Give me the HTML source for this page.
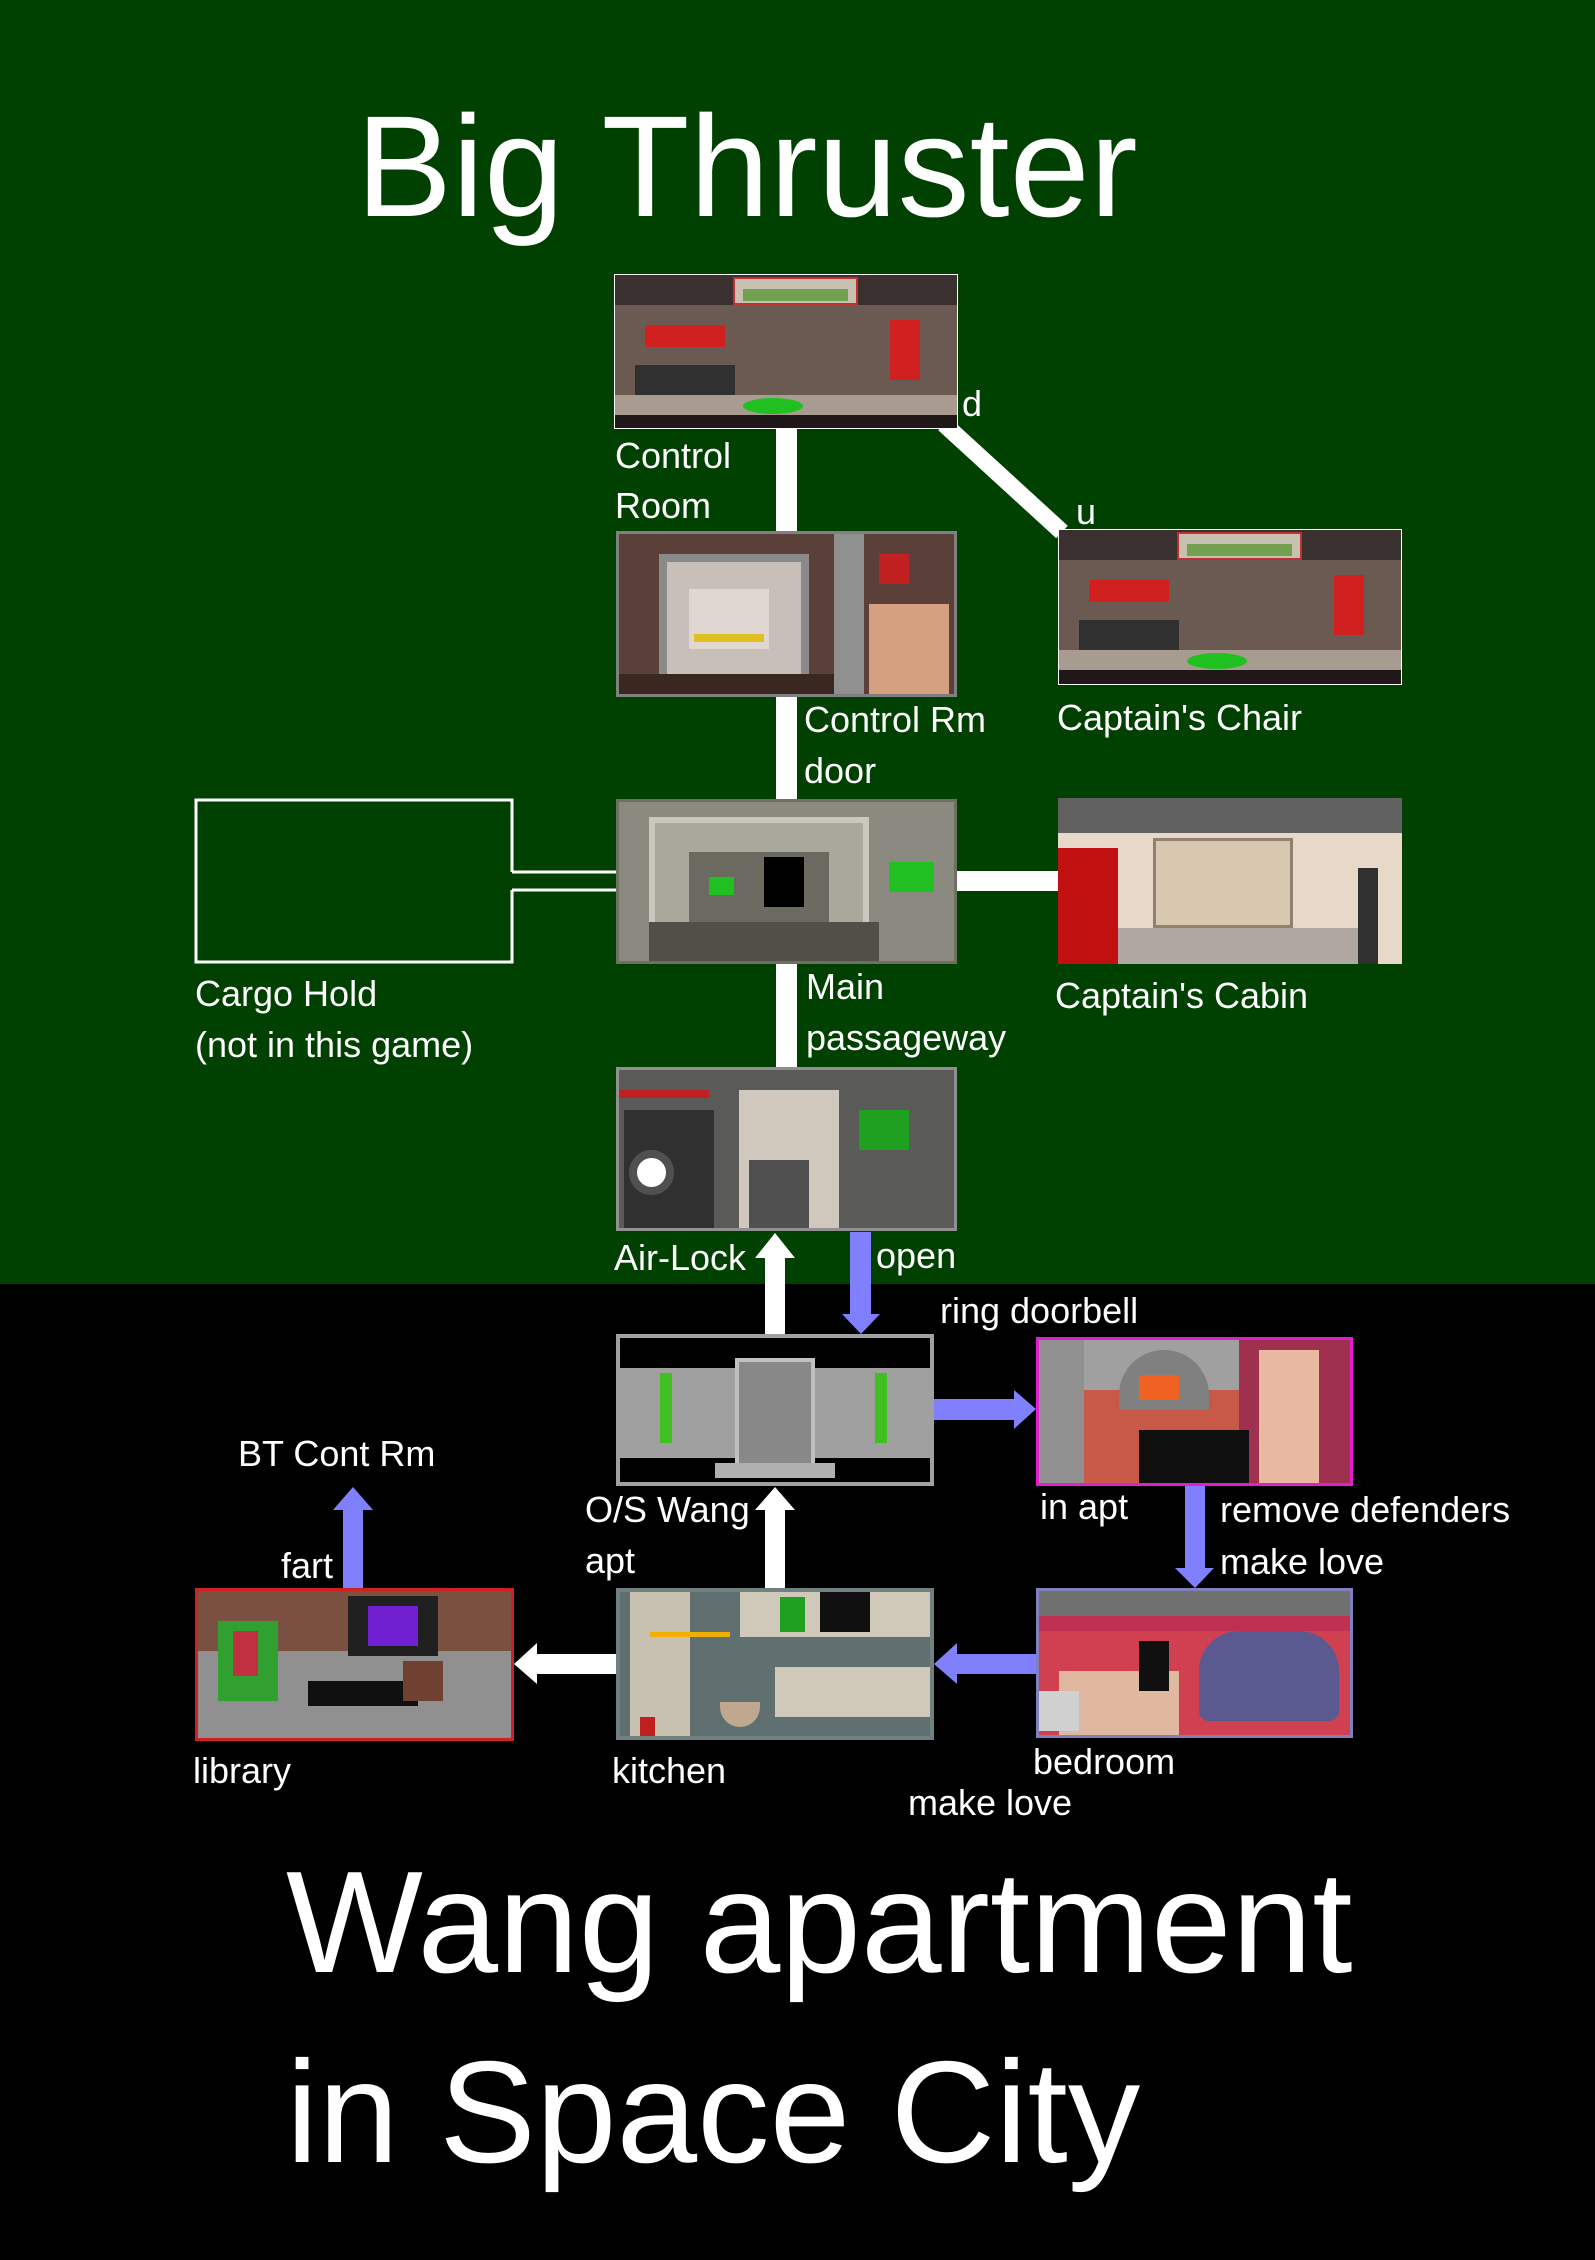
<!DOCTYPE html>
<html><head><meta charset="utf-8"><style>
*{margin:0;padding:0;box-sizing:border-box}
body{width:1595px;height:2260px;position:relative;background:#000;overflow:hidden;font-family:"Liberation Sans",sans-serif;color:#fff}
.a{position:absolute}
.t{position:absolute;font-size:36px;line-height:36px;white-space:nowrap}
.big{position:absolute;font-size:146px;line-height:1;white-space:nowrap}
.img{position:absolute;overflow:hidden}
.img div{position:absolute}
</style></head><body>
<div class="a" style="left:0;top:0;width:1595px;height:1284px;background:#004000"></div>

<div class="big" style="left:356px;top:95px;font-size:144px">Big Thruster</div>

<!-- connectors top -->
<div class="a" style="left:776px;top:428px;width:21px;height:104px;background:#fff"></div>
<div class="a" style="left:776px;top:697px;width:21px;height:104px;background:#fff"></div>
<div class="a" style="left:776px;top:964px;width:21px;height:104px;background:#fff"></div>
<div class="a" style="left:957px;top:871px;width:102px;height:20px;background:#fff"></div>
<svg class="a" style="left:0;top:0" width="1595" height="1300"><line x1="944" y1="424" x2="1062" y2="532" stroke="#fff" stroke-width="17"/>
<polyline points="512,872 512,800 196,800 196,962 512,962 512,890" fill="none" stroke="#fff" stroke-width="3"/>
<line x1="512" y1="872" x2="616" y2="872" stroke="#fff" stroke-width="3"/>
<line x1="512" y1="890" x2="616" y2="890" stroke="#fff" stroke-width="3"/></svg>

<!-- Control Room -->
<div class="img" style="left:614px;top:274px;width:344px;height:155px;background:#6a5a52;border:1px solid #fff">
<div style="left:0;top:0;width:344px;height:30px;background:#3a3030"></div>
<div style="left:118px;top:2px;width:125px;height:28px;background:#c8c0b0;border:2px solid #c03030"></div>
<div style="left:128px;top:14px;width:105px;height:12px;background:#70a050"></div>
<div style="left:30px;top:50px;width:80px;height:22px;background:#d02020"></div>
<div style="left:275px;top:45px;width:30px;height:60px;background:#d02020"></div>
<div style="left:20px;top:90px;width:100px;height:30px;background:#303030"></div>
<div style="left:0;top:120px;width:344px;height:25px;background:#a89c90"></div>
<div style="left:128px;top:123px;width:60px;height:16px;background:#20c020;border-radius:50%"></div>
<div style="left:0;top:140px;width:344px;height:15px;background:#201818"></div>
</div>

<!-- Control Rm door -->
<div class="img" style="left:616px;top:531px;width:341px;height:166px;background:#5a4038;border:3px solid #808080">
<div style="left:40px;top:20px;width:150px;height:130px;background:#c8c0b8;border:8px solid #8a8a8a"></div>
<div style="left:70px;top:55px;width:80px;height:60px;background:#e0d8d0"></div>
<div style="left:75px;top:100px;width:70px;height:8px;background:#e0c020"></div>
<div style="left:0;top:140px;width:215px;height:25px;background:#3a2820"></div>
<div style="left:215px;top:0;width:30px;height:166px;background:#909090"></div>
<div style="left:250px;top:70px;width:80px;height:96px;background:#d4a080"></div>
<div style="left:260px;top:20px;width:30px;height:30px;background:#c02020"></div>
</div>

<!-- Captain's Chair -->
<div class="img" style="left:1058px;top:529px;width:344px;height:156px;background:#6a5a52;border:1px solid #fff">
<div style="left:0;top:0;width:344px;height:30px;background:#3a3030"></div>
<div style="left:118px;top:2px;width:125px;height:28px;background:#c8c0b0;border:2px solid #c03030"></div>
<div style="left:128px;top:14px;width:105px;height:12px;background:#70a050"></div>
<div style="left:30px;top:50px;width:80px;height:22px;background:#d02020"></div>
<div style="left:275px;top:45px;width:30px;height:60px;background:#d02020"></div>
<div style="left:20px;top:90px;width:100px;height:30px;background:#303030"></div>
<div style="left:0;top:120px;width:344px;height:25px;background:#a89c90"></div>
<div style="left:128px;top:123px;width:60px;height:16px;background:#20c020;border-radius:50%"></div>
<div style="left:0;top:140px;width:344px;height:16px;background:#201818"></div>
</div>

<!-- Main passageway -->
<div class="img" style="left:616px;top:799px;width:341px;height:165px;background:#8a8a80;border:3px solid #707060">
<div style="left:30px;top:15px;width:220px;height:130px;background:#a8a89c;border:6px solid #c8c8bc"></div>
<div style="left:70px;top:50px;width:140px;height:75px;background:#6a6a60"></div>
<div style="left:145px;top:55px;width:40px;height:50px;background:#000"></div>
<div style="left:90px;top:75px;width:25px;height:18px;background:#20c020"></div>
<div style="left:270px;top:60px;width:45px;height:30px;background:#20c020"></div>
<div style="left:30px;top:120px;width:230px;height:40px;background:#505048"></div>
</div>

<!-- Captain's Cabin -->
<div class="img" style="left:1058px;top:798px;width:344px;height:166px;background:#e8d8c8">
<div style="left:0;top:0;width:344px;height:35px;background:#606060"></div>
<div style="left:95px;top:40px;width:140px;height:90px;background:#d8c8b0;border:3px solid #908070"></div>
<div style="left:0;top:50px;width:60px;height:116px;background:#c01010"></div>
<div style="left:60px;top:130px;width:240px;height:36px;background:#b0a8a0"></div>
<div style="left:300px;top:70px;width:20px;height:96px;background:#303030"></div>
</div>

<!-- Air-Lock -->
<div class="img" style="left:616px;top:1067px;width:341px;height:164px;background:#5a5a58;border:3px solid #909090">
<div style="left:120px;top:20px;width:100px;height:140px;background:#d0c8bc"></div>
<div style="left:130px;top:90px;width:60px;height:70px;background:#505050"></div>
<div style="left:5px;top:40px;width:90px;height:120px;background:#303030"></div>
<div style="left:10px;top:80px;width:45px;height:45px;background:#fff;border-radius:50%;border:8px solid #505050"></div>
<div style="left:240px;top:40px;width:50px;height:40px;background:#20a020"></div>
<div style="left:0;top:20px;width:90px;height:8px;background:#c02020"></div>
</div>

<!-- arrows -->
<svg class="a" style="left:0;top:0" width="1595" height="2260">
<g fill="#fff">
<rect x="765" y="1255" width="20" height="80"/><polygon points="755,1258 775,1233 795,1258"/>
<rect x="765" y="1505" width="20" height="84"/><polygon points="755,1510 775,1487 795,1510"/>
<rect x="534" y="1654" width="83" height="20"/><polygon points="537,1643 514,1664 537,1684"/>
</g>
<g fill="#8080ff">
<rect x="850" y="1232" width="21" height="85"/><polygon points="842,1314 861,1334 880,1314"/>
<rect x="934" y="1399" width="82" height="21"/><polygon points="1014,1390 1036,1409 1014,1429"/>
<rect x="1185" y="1486" width="20" height="85"/><polygon points="1175,1568 1195,1588 1214,1568"/>
<rect x="955" y="1654" width="82" height="20"/><polygon points="957,1643 934,1664 957,1684"/>
<rect x="343" y="1505" width="20" height="84"/><polygon points="333,1510 353,1487 373,1510"/>
</g>
</svg>

<!-- O/S Wang -->
<div class="img" style="left:616px;top:1334px;width:318px;height:152px;background:#000;border:4px solid #a0a0a0">
<div style="left:0;top:30px;width:310px;height:90px;background:#a0a0a0"></div>
<div style="left:115px;top:20px;width:80px;height:110px;background:#888;border:4px solid #c0c0c0"></div>
<div style="left:40px;top:35px;width:12px;height:70px;background:#40c020"></div>
<div style="left:255px;top:35px;width:12px;height:70px;background:#40c020"></div>
<div style="left:95px;top:125px;width:120px;height:15px;background:#b0b0b0"></div>
</div>

<!-- in apt -->
<div class="img" style="left:1036px;top:1337px;width:317px;height:149px;background:#c85848;border:3px solid #e020d0">
<div style="left:0;top:0;width:317px;height:50px;background:#a0a0a0"></div>
<div style="left:80px;top:10px;width:90px;height:60px;background:#808080;border-radius:45px 45px 0 0"></div>
<div style="left:100px;top:35px;width:40px;height:25px;background:#f06020"></div>
<div style="left:0;top:0;width:45px;height:149px;background:#909090"></div>
<div style="left:200px;top:0;width:117px;height:149px;background:#a03050"></div>
<div style="left:220px;top:10px;width:60px;height:139px;background:#e8b8a0"></div>
<div style="left:100px;top:90px;width:110px;height:59px;background:#101010"></div>
</div>

<!-- library -->
<div class="img" style="left:195px;top:1588px;width:319px;height:153px;background:#909090;border:3px solid #d02020">
<div style="left:0;top:0;width:319px;height:60px;background:#7a5040"></div>
<div style="left:150px;top:5px;width:90px;height:60px;background:#202020"></div>
<div style="left:170px;top:15px;width:50px;height:40px;background:#7020d0"></div>
<div style="left:20px;top:30px;width:60px;height:80px;background:#30a030"></div>
<div style="left:35px;top:40px;width:25px;height:45px;background:#c03040"></div>
<div style="left:110px;top:90px;width:110px;height:25px;background:#101010"></div>
<div style="left:205px;top:70px;width:40px;height:40px;background:#704030"></div>
</div>

<!-- kitchen -->
<div class="img" style="left:616px;top:1588px;width:318px;height:152px;background:#607070;border:4px solid #708080">
<div style="left:10px;top:0;width:60px;height:144px;background:#c8c0b0"></div>
<div style="left:120px;top:0;width:190px;height:45px;background:#d0c8b8"></div>
<div style="left:160px;top:5px;width:25px;height:35px;background:#20a020"></div>
<div style="left:200px;top:0;width:50px;height:40px;background:#101010"></div>
<div style="left:155px;top:75px;width:155px;height:50px;background:#d0c8b8"></div>
<div style="left:30px;top:40px;width:80px;height:5px;background:#f0b000"></div>
<div style="left:100px;top:110px;width:40px;height:25px;background:#c0a890;border-radius:0 0 20px 20px"></div>
<div style="left:20px;top:125px;width:15px;height:25px;background:#c02020"></div>
</div>

<!-- bedroom -->
<div class="img" style="left:1036px;top:1588px;width:317px;height:150px;background:#d04050;border:3px solid #8080c0">
<div style="left:0;top:0;width:317px;height:25px;background:#707070"></div>
<div style="left:0;top:25px;width:317px;height:15px;background:#c03050"></div>
<div style="left:160px;top:40px;width:140px;height:90px;background:#5a5a90;border-radius:40px 40px 10px 10px"></div>
<div style="left:20px;top:80px;width:120px;height:65px;background:#e0b8a0"></div>
<div style="left:100px;top:50px;width:30px;height:50px;background:#101010"></div>
<div style="left:0;top:100px;width:40px;height:40px;background:#d0d0d0"></div>
</div>

<!-- labels -->
<div class="t" style="left:615px;top:438px">Control</div>
<div class="t" style="left:615px;top:488px">Room</div>
<div class="t" style="left:962px;top:386px">d</div>
<div class="t" style="left:1076px;top:494px">u</div>
<div class="t" style="left:1057px;top:700px">Captain's Chair</div>
<div class="t" style="left:804px;top:702px">Control Rm</div>
<div class="t" style="left:804px;top:753px">door</div>
<div class="t" style="left:195px;top:976px">Cargo Hold</div>
<div class="t" style="left:195px;top:1027px">(not in this game)</div>
<div class="t" style="left:1055px;top:978px">Captain's Cabin</div>
<div class="t" style="left:806px;top:969px">Main</div>
<div class="t" style="left:806px;top:1020px">passageway</div>
<div class="t" style="left:614px;top:1240px">Air-Lock</div>
<div class="t" style="left:876px;top:1238px">open</div>
<div class="t" style="left:940px;top:1293px">ring doorbell</div>
<div class="t" style="left:585px;top:1492px">O/S Wang</div>
<div class="t" style="left:585px;top:1543px">apt</div>
<div class="t" style="left:1040px;top:1489px">in apt</div>
<div class="t" style="left:1220px;top:1492px">remove defenders</div>
<div class="t" style="left:1220px;top:1544px">make love</div>
<div class="t" style="left:238px;top:1436px">BT Cont Rm</div>
<div class="t" style="left:281px;top:1548px">fart</div>
<div class="t" style="left:193px;top:1753px">library</div>
<div class="t" style="left:612px;top:1753px">kitchen</div>
<div class="t" style="left:1033px;top:1744px">bedroom</div>
<div class="t" style="left:908px;top:1785px">make love</div>

<div class="big" style="left:286px;top:1850px;font-size:145px">Wang apartment</div>
<div class="big" style="left:286px;top:2040px;font-size:145px">in Space City</div>
</body></html>
